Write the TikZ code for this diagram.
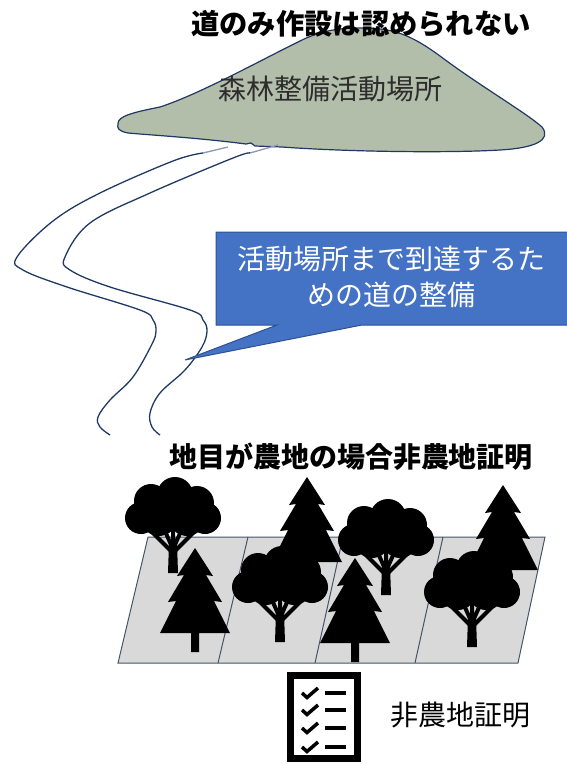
\documentclass[tikz,border=0pt]{standalone}
\usepackage{fontspec}
\newfontfamily\jp{Noto Sans CJK JP}
\definecolor{hillfill}{RGB}{178,189,170}
\definecolor{navy}{RGB}{32,56,100}
\definecolor{roadfade}{RGB}{140,152,172}
\definecolor{callfill}{RGB}{68,114,196}
\definecolor{callline}{RGB}{47,82,143}
\definecolor{plotfill}{RGB}{217,217,217}
\definecolor{plotline}{RGB}{68,84,106}
\definecolor{softtext}{RGB}{45,45,45}
\tikzset{
  jptext/.style={font=\jp\fontsize{28}{36}\selectfont, inner sep=0pt},
  jpbold/.style={font=\jp\bfseries\fontsize{#1}{#1}\selectfont, inner sep=0pt},
  road/.style={draw=navy, line width=1.3pt},
  roadend/.style={draw=roadfade, line width=1.3pt},
  broadleaf/.pic={
    \fill (-22,-72) circle (17) (2,-78) circle (18) (24,-70) circle (17)
          (-32,-55) circle (16) (32,-55) circle (16)
          (-14,-55) circle (18) (14,-55) circle (18) (0,-62) circle (20);
    \fill (-5,0) -- (5,0) -- (4,-30) -- (-4,-30) -- cycle;
    \draw[line width=4pt] (0,-20) -- (-22,-42) (0,-20) -- (22,-42)
          (0,-24) -- (-9,-44) (0,-24) -- (9,-44) (0,-20) -- (0,-44);
  },
  conifer/.pic={
    \fill (0,-104) -- (18,-76) -- (11,-77) -- (27,-50) -- (19,-51) -- (35,-19)
          -- (4,-19) -- (4,0) -- (-4,0) -- (-4,-19) -- (-35,-19) -- (-19,-51)
          -- (-27,-50) -- (-11,-77) -- (-18,-76) -- cycle;
  }
}
\begin{document}
\begin{tikzpicture}[x=1pt, y=-1pt]
\useasboundingbox (0,0) rectangle (566,764);

% forest site on the hill
\draw[fill=hillfill, draw=navy, line width=1.2pt]
  (118,124) .. controls (117,116) and (135,112) .. (160,107)
  .. controls (200,94) and (265,58) .. (300,41)
  .. controls (322,30) and (340,28) .. (362,28)
  .. controls (392,28) and (410,34) .. (440,56)
  .. controls (480,86) and (525,112) .. (542,127)
  .. controls (552,140) and (535,148) .. (500,150)
  .. controls (450,153) and (350,152) .. (282,147)
  -- (255,146) -- (251,143) -- (246,144)
  .. controls (200,138) and (150,135) .. (128,133)
  .. controls (118,131) and (117,128) .. (118,124) -- cycle;
\node[jptext, text=softtext] (site) at (330,89) {森林整備活動場所};
\node[jpbold=28.3] (rule) at (361,24) {道のみ作設は認められない};

% access road
\draw[roadend] (228,147) -- (203,153);
\draw[roadend] (278,145) -- (250,153);
\draw[road] plot[smooth, tension=0.6] coordinates {
  (203,153) (173,161) (100,193) (53,221) (17,257) (23,270) (67,287)
  (140,310) (153,320) (156,331) (152,344) (133,377) (110,400) (98,417)
  (100,427) (110,435)};
\draw[road] plot[smooth, tension=0.6] coordinates {
  (250,153) (233,158) (150,193) (90,223) (65,257) (70,270) (110,287)
  (190,310) (203,320) (207,331) (202,347) (185,370) (160,393) (150,413)
  (152,427) (160,435)};

% callout
\draw[fill=callfill, draw=callline, line width=1pt]
  (216,232) -- (570,232) -- (570,325) -- (362,325) -- (185,360)
  -- (277,325) -- (216,325) -- cycle;
\node[jptext, text=white, align=center] (calltext) at (391,277)
  {活動場所まで到達するた\\めの道の整備};

% land plots
\node[jpbold=28] (landnote) at (351,457) {地目が農地の場合非農地証明};
\draw[fill=plotfill, draw=plotline, line width=1pt]
  (148,537) -- (545,537) -- (518,663) -- (118,663) -- cycle;
\draw[draw=plotline, line width=1pt]
  (248,537) -- (218,663) (343,537) -- (315,663) (443,537) -- (415,663);

% trees
\pic at (173,573) {broadleaf};
\pic at (307,581) {conifer};
\pic at (503,589) {conifer};
\pic at (386,595) {broadleaf};
\pic at (195,652) {conifer};
\pic at (280,642) {broadleaf};
\pic at (355,662) {conifer};
\pic at (472,647) {broadleaf};

% checklist icon
\draw[line width=7pt] (290.5,675.5) rectangle (357.5,758.5);
\foreach \yy in {693,710,728,747}{
  \draw[line width=3.5pt] (302,\yy) -- (307,\yy+4.5) -- (318,\yy-5);
  \draw[line width=4pt] (325,\yy) -- (346,\yy);
}
\node[jptext] (cert) at (460,715) {非農地証明};
\end{tikzpicture}
\end{document}
